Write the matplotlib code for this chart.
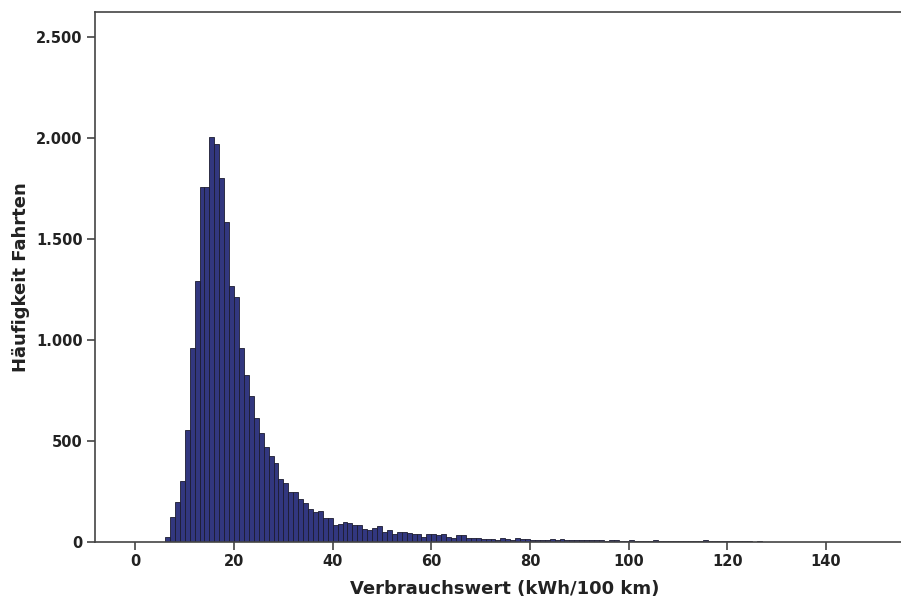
import numpy as np
import matplotlib
matplotlib.use("Agg")
import matplotlib.pyplot as plt
from matplotlib.ticker import FuncFormatter

# Häufigkeit je 1-kWh-Klasse, beginnend bei 6 kWh/100 km
start_wert = 6
haeufigkeit = [
    26, 122, 196, 302, 554, 962, 1292, 1756, 1759, 2007,   # 6-15
    1970, 1804, 1586, 1267, 1211, 962, 827, 725, 616, 538,  # 16-25
    472, 426, 390, 312, 290, 246, 246, 211, 191, 163,       # 26-35
    148, 155, 119, 119, 84, 89, 99, 94, 86, 86,             # 36-45
    64, 59, 69, 79, 49, 59, 41, 49, 51, 46,                 # 46-55
    41, 38, 26, 40, 40, 35, 40, 26, 20, 33,                 # 56-65
    33, 21, 20, 20, 15, 14, 13, 12, 20, 14,                 # 66-75
    12, 20, 15, 13, 12, 11, 10, 10, 17, 12,                 # 76-85
    16, 11, 10, 9, 9, 8, 12, 8, 9, 7,                       # 86-95
    8, 10, 7, 7, 8, 6, 7, 6, 7, 10,                         # 96-105
    6, 5, 6, 5, 5, 4, 6, 5, 5, 8,                           # 106-115
    5, 4, 5, 4, 4, 3, 4, 3, 3, 2, 3,                        # 116-126
]
klassen = np.arange(start_wert, start_wert + len(haeufigkeit))

x_ticks = [0, 20, 40, 60, 80, 100, 120, 140]
y_ticks = [0, 500, 1000, 1500, 2000, 2500]

plt.rcParams['font.family'] = ['DejaVu Sans']

fig = plt.figure(figsize=(9.01, 6.0), dpi=100)
ax = fig.add_axes([95 / 901, 58 / 600, 1 - 95 / 901 + 0.002, (542 - 12) / 600])

ax.bar(klassen, haeufigkeit, width=1.0, align='edge',
       facecolor='#32377f', edgecolor='#1c1c30', linewidth=0.6)

ax.set_xlim(-8.2, 155.6)
ax.set_ylim(0, 2625)
ax.set_xticks(x_ticks)
ax.set_yticks(y_ticks)
ax.yaxis.set_major_formatter(FuncFormatter(lambda v, p: f"{int(v):,}".replace(",", ".")))

for s in ['left', 'bottom', 'top']:
    ax.spines[s].set_color('#444444')
    ax.spines[s].set_linewidth(1.2)
ax.spines['right'].set_visible(False)

ax.tick_params(axis='both', direction='out', length=6, width=1.2, color='#444444',
               labelsize=10.5, labelcolor='#222222', pad=3)
for lbl in ax.get_xticklabels() + ax.get_yticklabels():
    lbl.set_fontweight('bold')

label_font = dict(fontsize=13, fontweight='bold', color='#222222')
ax.set_xlabel('Verbrauchswert (kWh/100 km)', **label_font)
ax.set_ylabel('Häufigkeit Fahrten', **label_font)
ax.xaxis.set_label_coords(0.507, -0.072)
ax.yaxis.set_label_coords(-0.08, 0.5)

fig.savefig('out.png', dpi=100)
